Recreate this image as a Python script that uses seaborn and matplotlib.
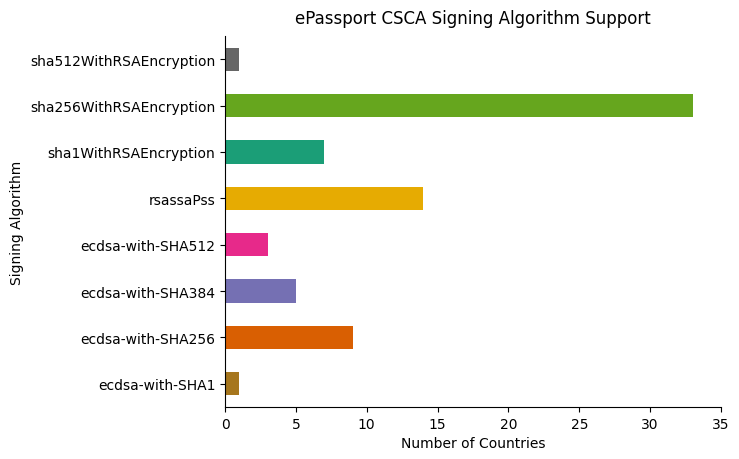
import numpy as np
import pandas as pd
import matplotlib
matplotlib.use("Agg")
import matplotlib.pyplot as plt
import seaborn as sns

# algorithms, listed top to bottom as in the chart
algorithms = ["sha512WithRSAEncryption", "sha256WithRSAEncryption", "sha1WithRSAEncryption",
              "rsassaPss", "ecdsa-with-SHA512", "ecdsa-with-SHA384",
              "ecdsa-with-SHA256", "ecdsa-with-SHA1"]
countries = [1, 33, 7, 14, 3, 5, 9, 1]
bar_colors = ["#666666", "#66a61e", "#1b9e77", "#e6ab02", "#e7298a", "#7570b3",
              "#d95f02", "#a6761d"]

df = pd.DataFrame({"algorithm": algorithms, "count": countries})
palette = dict(zip(algorithms, bar_colors))

plt.rcParams["font.family"] = ["DejaVu Sans"]

fig = plt.figure(figsize=(7.39, 4.6), dpi=100)
ax = fig.add_axes([225/739, 1-408/460, (721-225)/739, (408-37)/460])

sns.barplot(data=df, y="algorithm", x="count", hue="algorithm", palette=palette,
            order=algorithms, width=0.5, saturation=1, legend=False, ax=ax)

ax.set_xlim(0, 35)
ax.set_ylim(7.5, -0.5)
ax.set_xticks(np.arange(0, 36, 5))
ax.set_xlabel("Number of Countries")
ax.set_ylabel("Signing Algorithm")
ax.set_title("ePassport CSCA Signing Algorithm Support", pad=9)
sns.despine(ax=ax)

fig.savefig("out.png", dpi=100)
